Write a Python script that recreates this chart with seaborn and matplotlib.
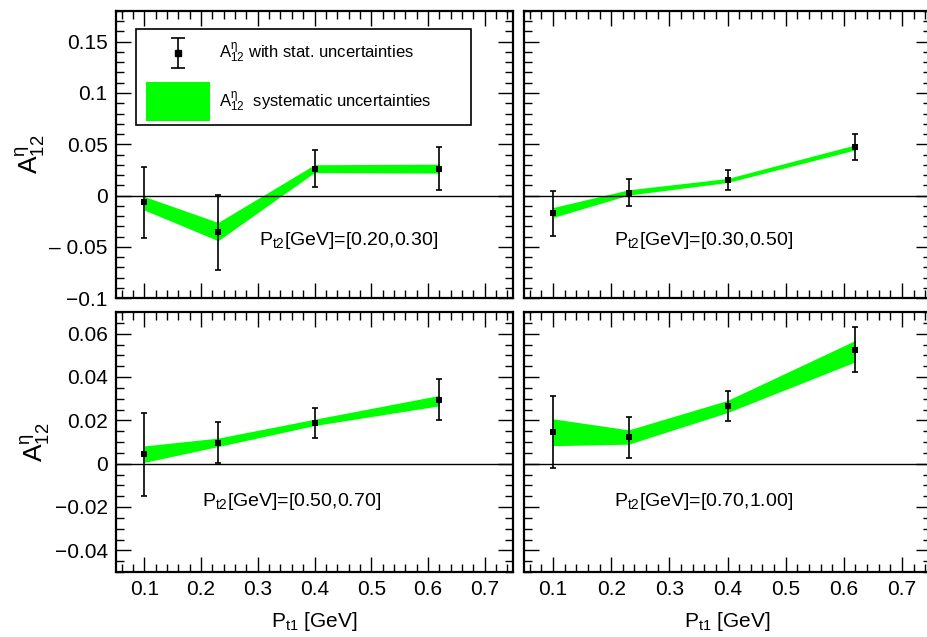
import numpy as np
import pandas as pd
import matplotlib
matplotlib.use("Agg")
import matplotlib.pyplot as plt
import seaborn as sns
from matplotlib.patches import Patch
from matplotlib.container import ErrorbarContainer
from matplotlib.legend_handler import HandlerErrorbar, HandlerPatch
from matplotlib.ticker import FixedLocator, MultipleLocator, NullFormatter

# ---------------- data ----------------
pt1 = [0.1, 0.23, 0.4, 0.62]

labels = ["[0.20,0.30]", "[0.30,0.50]", "[0.50,0.70]", "[0.70,1.00]"]

a1_val = [-0.0068, -0.0360, 0.0263, 0.0263]
a1_err = [0.0348, 0.0362, 0.0182, 0.0212]
a1_lo = [-0.0142, -0.0441, 0.0224, 0.0218]
a1_hi = [-0.0010, -0.0263, 0.0300, 0.0306]

a2_val = [-0.0175, 0.0029, 0.0150, 0.0474]
a2_err = [0.0216, 0.0135, 0.0097, 0.0128]
a2_lo = [-0.0214, 0.0004, 0.0127, 0.0445]
a2_hi = [-0.0117, 0.0056, 0.0166, 0.0494]

a3_val = [0.0043, 0.0097, 0.0188, 0.0295]
a3_err = [0.0192, 0.0095, 0.0070, 0.0095]
a3_lo = [0.0006, 0.0079, 0.0176, 0.0267]
a3_hi = [0.0082, 0.0118, 0.0205, 0.0315]

a4_val = [0.0147, 0.0122, 0.0267, 0.0526]
a4_err = [0.0167, 0.0095, 0.0068, 0.0105]
a4_lo = [0.0083, 0.0090, 0.0236, 0.0470]
a4_hi = [0.0207, 0.0156, 0.0292, 0.0569]

xticks = [0.1, 0.2, 0.3, 0.4, 0.5, 0.6, 0.7]
xticklabels = ["0.1", "0.2", "0.3", "0.4", "0.5", "0.6", "0.7"]
yticks_top = [-0.1, -0.05, 0, 0.05, 0.1, 0.15]
yticklabels_top = ["\u22120.1", "\u2013 0.05", "0", "0.05", "0.1", "0.15"]
yticks_bot = [-0.04, -0.02, 0, 0.02, 0.04, 0.06]
yticklabels_bot = ["\u22120.04", "\u22120.02", "0", "0.02", "0.04", "0.06"]

# ---------------- style ----------------
sns.set_theme(style="ticks")
plt.rcParams["font.family"] = ["Liberation Sans", "DejaVu Sans"]
plt.rcParams["mathtext.fontset"] = "custom"
plt.rcParams["mathtext.rm"] = "Liberation Sans"
plt.rcParams["mathtext.it"] = "Liberation Sans"
plt.rcParams["mathtext.bf"] = "Liberation Sans:bold"
for k in ["text.color", "axes.labelcolor", "xtick.color", "ytick.color",
          "axes.edgecolor", "xtick.labelcolor", "ytick.labelcolor"]:
    plt.rcParams[k] = "black"

GREEN = "#00ff00"


class CenteredErrorbar(HandlerErrorbar):
    def create_artists(self, legend, orig_handle, xdescent, ydescent,
                       width, height, fontsize, trans):
        return super().create_artists(legend, orig_handle, xdescent, ydescent,
                                      width, height - 0.95 * fontsize,
                                      fontsize, trans)


fig = plt.figure(figsize=(9.27, 6.37), dpi=100)
W, H = 927.0, 637.0
def box(x0, y0, x1, y1):
    return [x0 / W, 1 - y1 / H, (x1 - x0) / W, (y1 - y0) / H]

axes = [
    fig.add_axes(box(116, 11, 513, 298)),
    fig.add_axes(box(524, 11, 931, 298)),
    fig.add_axes(box(116, 312, 513, 572)),
    fig.add_axes(box(524, 312, 931, 572)),
]

panels = [
    (a1_val, a1_err, a1_lo, a1_hi, labels[0], (0.46, -0.044)),
    (a2_val, a2_err, a2_lo, a2_hi, labels[1], (0.358, -0.044)),
    (a3_val, a3_err, a3_lo, a3_hi, labels[2], (0.359, -0.0176)),
    (a4_val, a4_err, a4_lo, a4_hi, labels[3], (0.358, -0.0176)),
]

for i, (ax, (val, err, lo, hi, lab, tpos)) in enumerate(zip(axes, panels)):
    top = i < 2
    left = i % 2 == 0
    df = pd.DataFrame({"pt1": pt1, "A": val})
    ax.fill_between(pt1, lo, hi, color=GREEN, lw=0, zorder=2)
    ax.axhline(0, color="black", lw=1.0, zorder=3)
    ax.errorbar(pt1, val, yerr=err, fmt="none", ecolor="black",
                elinewidth=1.2, capsize=2.2, capthick=1.2, zorder=4)
    sns.scatterplot(data=df, x="pt1", y="A", marker="s", s=22, color="black",
                    edgecolor="black", linewidth=0, ax=ax, zorder=5, legend=False)
    ax.set_xlim(0.05, 0.75)
    if top:
        ax.set_ylim(-0.1, 0.18)
        ax.yaxis.set_major_locator(FixedLocator(yticks_top))
        ax.yaxis.set_minor_locator(MultipleLocator(0.01))
        if left:
            ax.set_yticklabels(yticklabels_top)
    else:
        ax.set_ylim(-0.05, 0.07)
        ax.yaxis.set_major_locator(FixedLocator(yticks_bot))
        ax.yaxis.set_minor_locator(MultipleLocator(0.005))
        if left:
            ax.set_yticklabels(yticklabels_bot)
    ax.xaxis.set_major_locator(FixedLocator(xticks))
    ax.xaxis.set_minor_locator(MultipleLocator(0.02))
    if not top:
        ax.set_xticklabels(xticklabels)
        ax.set_xlabel("P$_{\\mathregular{t1}}$ [GeV]", fontsize=15, labelpad=8)
    else:
        ax.xaxis.set_major_formatter(NullFormatter())
        ax.set_xlabel("")
    if not left:
        ax.yaxis.set_major_formatter(NullFormatter())
        ax.set_ylabel("")
    else:
        ax.set_ylabel("A$^{\\eta}_{\\mathregular{12}}$", fontsize=19, labelpad=2)
    ax.tick_params(which="both", direction="in", top=True, right=True,
                   width=1.0, color="black", labelsize=15)
    ax.tick_params(which="major", length=11, pad=6)
    ax.tick_params(which="minor", length=5.5)
    for sp in ax.spines.values():
        sp.set_linewidth(1.6)
        sp.set_color("black")
    ax.text(tpos[0], tpos[1], "P$_{\\mathregular{t2}}$[GeV]=" + lab,
            fontsize=14, ha="center", va="center", zorder=6)

# legend in first panel
ax = axes[0]
eb = ax.errorbar([np.nan], [np.nan], yerr=[[np.nan]], fmt="s", color="black",
                 ms=4, elinewidth=1.2, capsize=5, capthick=1.2)
green = Patch(facecolor=GREEN, edgecolor="none")
leg = ax.legend([eb, green],
                ["A$^{\\eta}_{\\mathregular{12}}$ with stat. uncertainties",
                 "A$^{\\eta}_{\\mathregular{12}}$  systematic uncertainties"],
                loc="upper left", bbox_to_anchor=(0.05, 0.937, 0.844, 0.0),
                mode="expand", fontsize=12, frameon=True, fancybox=False,
                handlelength=4.2, handleheight=3.22, handletextpad=0.55,
                labelspacing=0.6, borderpad=0.25, borderaxespad=0,
                handler_map={ErrorbarContainer: CenteredErrorbar(xerr_size=0.4, yerr_size=0.9, xpad=0.36),
                             Patch: HandlerPatch(xpad=0.36)})
leg.get_frame().set_edgecolor("black")
leg.get_frame().set_linewidth(1.2)
leg.get_frame().set_alpha(1)

fig.savefig("out.png", dpi=100)
